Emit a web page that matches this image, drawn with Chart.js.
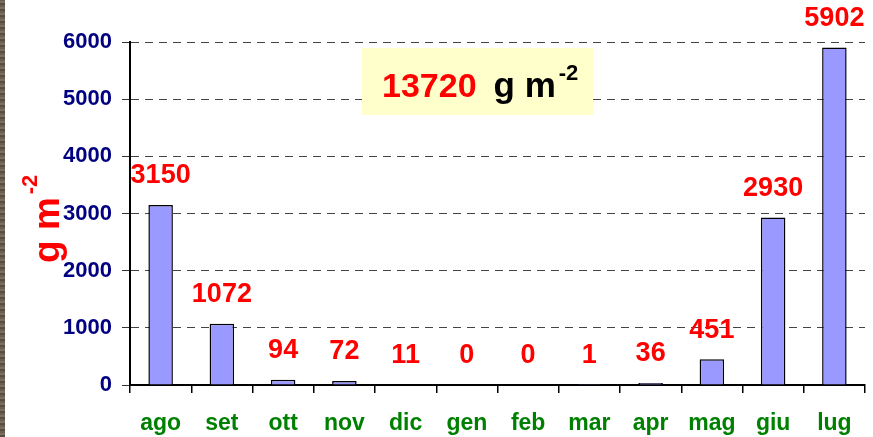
<!DOCTYPE html>
<html>
<head>
<meta charset="utf-8">
<script src="https://cdn.jsdelivr.net/npm/chart.js@4/dist/chart.umd.min.js"></script>
<style>
  html, body { margin:0; padding:0; background:#fff; }
  #wrap { position:relative; width:873px; height:437px; }
  #edge { position:absolute; left:0; top:0; width:5px; height:437px;
    background: repeating-linear-gradient(180deg, #5e5145 0px, #8a7b6b 2px, #4b4036 4px, #7a6c5d 6px); }
</style>
</head>
<body>
<div id="wrap">
  <canvas id="chart" width="873" height="437"></canvas>
  <div id="edge"></div>
</div>
<script>
// monthly values, g m-2
const months = ['ago','set','ott','nov','dic','gen','feb','mar','apr','mag','giu','lug'];
const values = [3150, 1072, 94, 72, 11, 0, 0, 1, 36, 451, 2930, 5902];
const yTicks = [0, 1000, 2000, 3000, 4000, 5000, 6000];
const total = 13720;

const FONT = '"Liberation Sans", Arial, sans-serif';

// red value labels above each bar
const valueLabels = {
    id: 'valueLabels',
    afterDatasetsDraw(chart) {
        const ctx = chart.ctx;
        const meta = chart.getDatasetMeta(0);
        ctx.save();
        ctx.font = 'bold 27px ' + FONT;
        ctx.fillStyle = '#ff0000';
        ctx.textAlign = 'center';
        ctx.textBaseline = 'middle';
        meta.data.forEach((bar, i) => {
            ctx.fillText(String(values[i]), bar.x, bar.y - 29);
        });
        ctx.restore();
    }
};

// y title + total box
const extras = {
    id: 'extras',
    afterDraw(chart) {
        const ctx = chart.ctx;
        ctx.save();
        // axis title g m-2, rotated
        ctx.translate(59, 263);
        ctx.rotate(-Math.PI / 2);
        ctx.fillStyle = '#ff0000';
        ctx.textBaseline = 'alphabetic';
        ctx.textAlign = 'left';
        ctx.font = 'bold 37px ' + FONT;
        const w1 = ctx.measureText('g m').width;
        ctx.fillText('g m', 0, 0);
        ctx.font = 'bold 22px ' + FONT;
        ctx.fillText('-2', w1 + 3, -22);
        ctx.restore();

        // total box
        ctx.save();
        ctx.fillStyle = '#ffffcc';
        ctx.fillRect(362, 48, 231, 67);
        ctx.textBaseline = 'alphabetic';
        ctx.textAlign = 'left';
        ctx.font = 'bold 34px ' + FONT;
        ctx.fillStyle = '#ff0000';
        ctx.fillText(String(total), 382, 97);
        const tw = ctx.measureText(String(total)).width;
        ctx.fillStyle = '#000';
        ctx.font = 'bold 35px ' + FONT;
        ctx.fillText('g m', 382 + tw + 17, 97);
        const gw = ctx.measureText('g m').width;
        ctx.font = 'bold 22px ' + FONT;
        ctx.fillText('-2', 382 + tw + 17 + gw + 3, 80);
        ctx.restore();
    }
};

new Chart(document.getElementById('chart'), {
    type: 'bar',
    data: {
        labels: months,
        datasets: [{
            data: values,
            backgroundColor: '#9999ff',
            borderColor: '#000',
            borderWidth: 1.5,
            barPercentage: 0.4,
            categoryPercentage: 1
        }]
    },
    options: {
        responsive: false,
        animation: false,
        layout: { padding: { top: 42, right: 8, left: 0, bottom: 0 } },
        plugins: { legend: { display: false }, tooltip: { enabled: false } },
        scales: {
            x: {
                grid: { display: true, drawOnChartArea: false, drawTicks: true, tickLength: 8, color: '#000', lineWidth: 1.5, offset: true },
                border: { color: '#000', width: 2 },
                ticks: { color: '#008000', padding: 17, font: { family: FONT, size: 23, weight: 'bold' } },
                afterFit(scale) { scale.height = 52; }
            },
            y: {
                min: 0, max: 6000,
                afterBuildTicks(scale) { scale.ticks = yTicks.map(v => ({ value: v })); },
                grid: { color: '#444', lineWidth: 1, tickLength: 8, drawTicks: true, tickColor: '#333', tickBorderDash: [] },
                border: { color: '#000', width: 2, dash: [8, 6] },
                ticks: {
                    color: '#000080', padding: 10,
                    font: { family: FONT, size: 22, weight: 'bold' },
                    callback: v => String(v)
                },
                afterFit(scale) { scale.width = 130; }
            }
        }
    },
    plugins: [valueLabels, extras]
});
</script>
</body>
</html>
